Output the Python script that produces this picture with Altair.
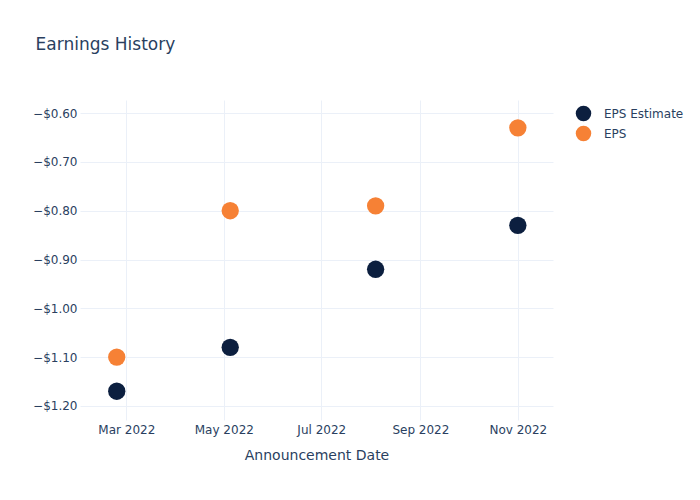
import altair as alt
import pandas as pd

dates = ["2022-02-23", "2022-05-05", "2022-08-04", "2022-11-01"]
eps_estimate = [-1.17, -1.08, -0.92, -0.83]
eps_actual = [-1.10, -0.80, -0.79, -0.63]
series_names = ["EPS Estimate", "EPS"]
series_colors = ["#0c1f3f", "#f68135"]

rows = []
for d, e, a in zip(dates, eps_estimate, eps_actual):
    rows.append({"date": d, "series": series_names[0], "value": e})
    rows.append({"date": d, "series": series_names[1], "value": a})
df = pd.DataFrame(rows)

txt = "#2a3f5f"
grid = "#ebf0f8"
font = "DejaVu Sans"

chart = (
    alt.Chart(df)
    .mark_circle(size=300, opacity=1)
    .encode(
        x=alt.X(
            "date:T",
            title="Announcement Date",
            scale=alt.Scale(domain=["2022-01-31", "2022-11-23"]),
            axis=alt.Axis(
                values=[alt.DateTime(year=2022, month=m, date=1) for m in (3, 5, 7, 9, 11)],
                format="%b %Y",
                grid=True,
                gridColor=grid,
                domain=False,
                ticks=False,
                labelPadding=4,
                labelFontSize=12,
                labelColor=txt,
                labelFont=font,
                titleFont=font,
                titleFontSize=14,
                titleFontWeight="normal",
                titleColor=txt,
                titlePadding=13,
            ),
        ),
        y=alt.Y(
            "value:Q",
            title=None,
            scale=alt.Scale(domain=[-1.229, -0.573], nice=False, zero=False),
            axis=alt.Axis(
                values=[-1.2, -1.1, -1.0, -0.9, -0.8, -0.7, -0.6],
                format="$.2f",
                grid=True,
                gridColor=grid,
                domain=False,
                ticks=False,
                labelPadding=3,
                labelFontSize=12,
                labelColor=txt,
                labelFont=font,
            ),
        ),
        color=alt.Color(
            "series:N",
            scale=alt.Scale(domain=series_names, range=series_colors),
            sort=series_names,
            legend=alt.Legend(
                title=None,
                orient="none",
                legendX=495,
                legendY=5,
                symbolType="circle",
                symbolSize=240,
                symbolOpacity=1,
                labelFontSize=12,
                labelColor=txt,
                labelFont=font,
                rowPadding=3,
                labelOffset=12,
            ),
        ),
    )
    .properties(
        width=473,
        height=320,
        padding={"left": 80, "top": 100, "right": 147, "bottom": 80},
        autosize=alt.AutoSizeParams(type="none"),
        background="white",
        title=alt.TitleParams(
            "Earnings History",
            anchor="start",
            dx=3,
            offset=46,
            fontSize=17,
            fontWeight="normal",
            color=txt,
            font=font,
        ),
    )
    .configure_view(strokeWidth=0, stroke=None)
)

chart.save("out.html", embed_options={"renderer": "svg", "actions": False})
